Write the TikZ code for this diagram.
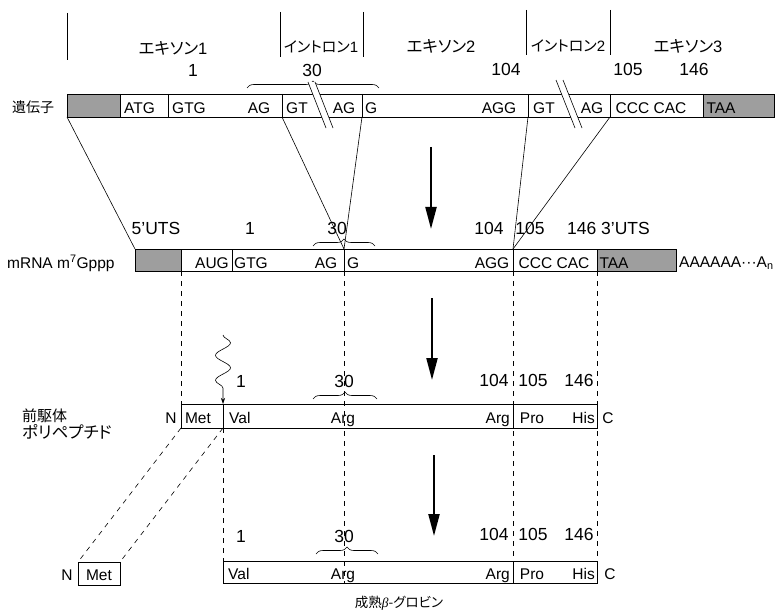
\documentclass[tikz,border=0pt]{standalone}
\usepackage{fontspec}
\setmainfont{Liberation Sans}
\newfontfamily\jp[RawFeature=+palt]{Noto Sans CJK JP}
\newfontfamily\grk{Liberation Serif}
\newfontfamily\lat{Liberation Sans}
\usetikzlibrary{decorations.pathreplacing,decorations.pathmorphing,arrows.meta}
\begin{document}
\begin{tikzpicture}[x=1pt,y=-1pt,
  bar/.style={draw,line width=0.8pt},
  shadebox/.style={fill=black!38},
  bt/.style={inner sep=0pt,anchor=base,font=\fontsize{15.5}{17}\selectfont},
  num/.style={inner sep=0pt,anchor=base,font=\fontsize{17.5}{19}\selectfont},
  jl/.style={inner sep=0pt,font=\jp\fontsize{14}{16}\selectfont},
  exl/.style={inner sep=0pt,font=\jp\fontsize{16.5}{19}\selectfont},
  inl/.style={inner sep=0pt,font=\jp\fontsize{15}{16}\selectfont},
  thinline/.style={line width=0.6pt},
  dsh/.style={line width=0.6pt,dash pattern=on 5pt off 5pt},
  brc/.style={decorate,decoration={brace,amplitude=7pt},line width=0.6pt},
  bigarrow/.style={line width=2.2pt,-{Triangle[length=22pt,width=11pt]}},
]
\useasboundingbox (0,0) rectangle (778,612);

% ---------- top labels ----------
\draw[thinline] (67,13) -- (67,60);
\draw[thinline] (280,12) -- (280,57);
\draw[thinline] (363,12) -- (363,57);
\draw[thinline] (526,10) -- (526,55);
\draw[thinline] (610,10) -- (610,55);
\node[exl] (ex1) at (173,48) {エキソン{\lat 1}};
\node[inl] (in1) at (321,47) {イントロン{\lat 1}};
\node[exl] (ex2) at (441,46) {エキソン{\lat 2}};
\node[inl] (in2) at (568,46) {イントロン{\lat 2}};
\node[exl] (ex3) at (688,46) {エキソン{\lat 3}};
\node[num] (gn1) at (193,77) {1};
\node[num] (gn30) at (312,77) {30};
\node[num] (gn104) at (506,76) {104};
\node[num] (gn105) at (628,76) {105};
\node[num] (gn146) at (694,76) {146};
\draw[brc] (247,88) -- (379,88);

% ---------- gene bar ----------
\node[jl,anchor=west] (gene) at (12,107) {遺伝子};
\fill[shadebox] (67,94) rectangle (120,117);
\fill[shadebox] (703,94) rectangle (774,117);
\draw[bar] (67,94) rectangle (774,117);
\foreach \x in {120,168,282,362,528,610,703} \draw[bar] (\x,94) -- (\x,117);
% breaks
\fill[white] (308,82) -- (315,82) -- (333,128) -- (326,128) -- cycle;
\draw[thinline] (308,82) -- (326,128);
\draw[thinline] (315,82) -- (333,128);
\fill[white] (556,80) -- (563,80) -- (582,128) -- (575,128) -- cycle;
\draw[thinline] (556,80) -- (575,128);
\draw[thinline] (563,80) -- (582,128);
\node[bt,anchor=base west] (g1) at (124,114) {ATG};
\node[bt,anchor=base west] (g2) at (172,114) {GTG};
\node[bt] (g3) at (259,114) {AG};
\node[bt,anchor=base west] (g4) at (286,114) {GT};
\node[bt] (g5) at (344,114) {AG};
\node[bt,anchor=base west] (g6) at (365,114) {G};
\node[bt] (g7) at (499,114) {AGG};
\node[bt] (g8) at (544,114) {GT};
\node[bt] (g9) at (592,114) {AG};
\node[bt] (g10) at (651,114) {CCC CAC};
\node[bt] (g11) at (721,114) {TAA};

% ---------- gene -> mRNA connectors ----------
\coordinate (gA) at (67,117);
\coordinate (gB) at (282,117);
\coordinate (gC) at (362,117);
\coordinate (gD) at (528,117);
\coordinate (gE) at (610,117);
\coordinate (mA) at (135,249);
\coordinate (mB) at (344,249);
\coordinate (mC) at (513,249);
\draw[thinline] (gA) -- (mA);
\draw[thinline] (gB) -- (mB);
\draw[thinline] (gC) -- (mB);
\draw[thinline] (gD) -- (mC);
\draw[thinline] (gE) -- (mC);

% ---------- big arrows ----------
\coordinate (a1s) at (431,147); \coordinate (a1e) at (431,229);
\coordinate (a2s) at (432,298); \coordinate (a2e) at (432,380);
\coordinate (a3s) at (434,455); \coordinate (a3e) at (434,536);
\draw[bigarrow] (a1s) -- (a1e);
\draw[bigarrow] (a2s) -- (a2e);
\draw[bigarrow] (a3s) -- (a3e);

% ---------- mRNA ----------
\node[bt,anchor=base west] (mrna) at (7,268) {mRNA m\textsuperscript{7}Gppp};
\node[num] (m5) at (156,235) {5'UTS};
\node[num] (mn1) at (250,235) {1};
\node[num] (mn30) at (337,235) {30};
\node[num] (mn104) at (489,234) {104};
\node[num] (mn105) at (530,234) {105};
\node[num,anchor=base west] (mn146) at (567,234) {146 3'UTS};
\draw[brc] (313,246) -- (375,246);
\fill[shadebox] (135,249) rectangle (181,271);
\fill[shadebox] (597,249) rectangle (676,271);
\draw[bar] (135,249) rectangle (676,271);
\foreach \x in {181,232,344,513,597} \draw[bar] (\x,249) -- (\x,271);
\node[bt] (m1) at (212,268) {AUG};
\node[bt] (m2) at (251,268) {GTG};
\node[bt] (m3) at (326,268) {AG};
\node[bt,anchor=base west] (m4) at (347,268) {G};
\node[bt] (m5t) at (492,268) {AGG};
\node[bt] (m6) at (554,268) {CCC CAC};
\node[bt] (m7) at (614,268) {TAA};
\node[bt,anchor=base west] (polya) at (679,267) {AAAAAA···A\textsubscript{n}};

% ---------- dashed guides ----------
\coordinate (mb1) at (181,271);
\coordinate (mb2) at (344,271);
\coordinate (mb3) at (513,271);
\coordinate (mb4) at (597,271);
\coordinate (pt1) at (181,404);
\coordinate (pb1) at (181,428);
\coordinate (pb2) at (223,428);
\coordinate (qt1) at (223,561);
\coordinate (qb2) at (344,583);
\coordinate (qt3) at (513,561);
\coordinate (qt4) at (597,561);
\coordinate (k1) at (78,562);
\coordinate (k2) at (120,562);
\draw[dsh] (mb1) -- (pt1);
\draw[dsh] (mb2) -- (qb2);
\draw[dsh] (mb3) -- (qt3);
\draw[dsh] (mb4) -- (qt4);
\draw[dsh] (pb2) -- (qt1);
\draw[dsh] (pb1) -- (k1);
\draw[dsh] (pb2) -- (k2);

% ---------- wavy arrow ----------
\coordinate (w0) at (223,335);
\coordinate (pt2) at (223,404);
\draw[thinline,-{Stealth[length=6pt,width=4pt]},decorate,
  decoration={snake,amplitude=7.5pt,segment length=25pt,post length=12pt}] (w0) -- (pt2);

% ---------- precursor polypeptide ----------
\node[inner sep=0pt,anchor=west,font=\jp\fontsize{15}{17}\selectfont] (pre1) at (22,416) {前駆体};
\node[inner sep=0pt,anchor=west,font=\jp\fontsize{16.5}{18}\selectfont] (pre2) at (22,432) {ポリペプチド};
\node[num] (pn1) at (241,387) {1};
\node[num] (pn30) at (344,387) {30};
\node[num] (pn104) at (494,386) {104};
\node[num] (pn105) at (533,386) {105};
\node[num] (pn146) at (579,386) {146};
\draw[brc] (313,399) -- (377,399);
\draw[bar] (181,404) rectangle (597,428);
\foreach \x in {223,513} \draw[bar] (\x,404) -- (\x,428);
\node[bt] (pN) at (171,423) {N};
\node[bt] (p1) at (198,423) {Met};
\node[bt,anchor=base west] (p2) at (229,423) {Val};
\node[bt] (p3) at (343,423) {Arg};
\node[bt,anchor=base east] (p4) at (510,423) {Arg};
\node[bt] (p5) at (532,423) {Pro};
\node[bt,anchor=base east] (p6) at (595,423) {His};
\node[bt] (pC) at (608,423) {C};

% ---------- mature ----------
\node[num] (qn1) at (241,542) {1};
\node[num] (qn30) at (344,542) {30};
\node[num] (qn104) at (494,540) {104};
\node[num] (qn105) at (533,540) {105};
\node[num] (qn146) at (579,540) {146};
\draw[brc] (316,554) -- (378,554);
\draw[bar] (223,561) rectangle (597,583);
\draw[bar] (513,561) -- (513,583);
\node[bt,anchor=base west] (q2) at (228,579) {Val};
\node[bt] (q3) at (343,579) {Arg};
\node[bt,anchor=base east] (q4) at (510,579) {Arg};
\node[bt] (q5) at (532,579) {Pro};
\node[bt,anchor=base east] (q6) at (595,579) {His};
\node[bt] (qC) at (610,579) {C};
\draw[bar] (78,562) rectangle (120,585);
\node[bt] (kM) at (99,580) {Met};
\node[bt] (kN) at (67,580) {N};
\node[inner sep=0pt,font=\jp\fontsize{13.5}{15}\selectfont] (cap) at (399,603) {成熟{\grk\itshape β}-グロビン};
\end{tikzpicture}
\end{document}
